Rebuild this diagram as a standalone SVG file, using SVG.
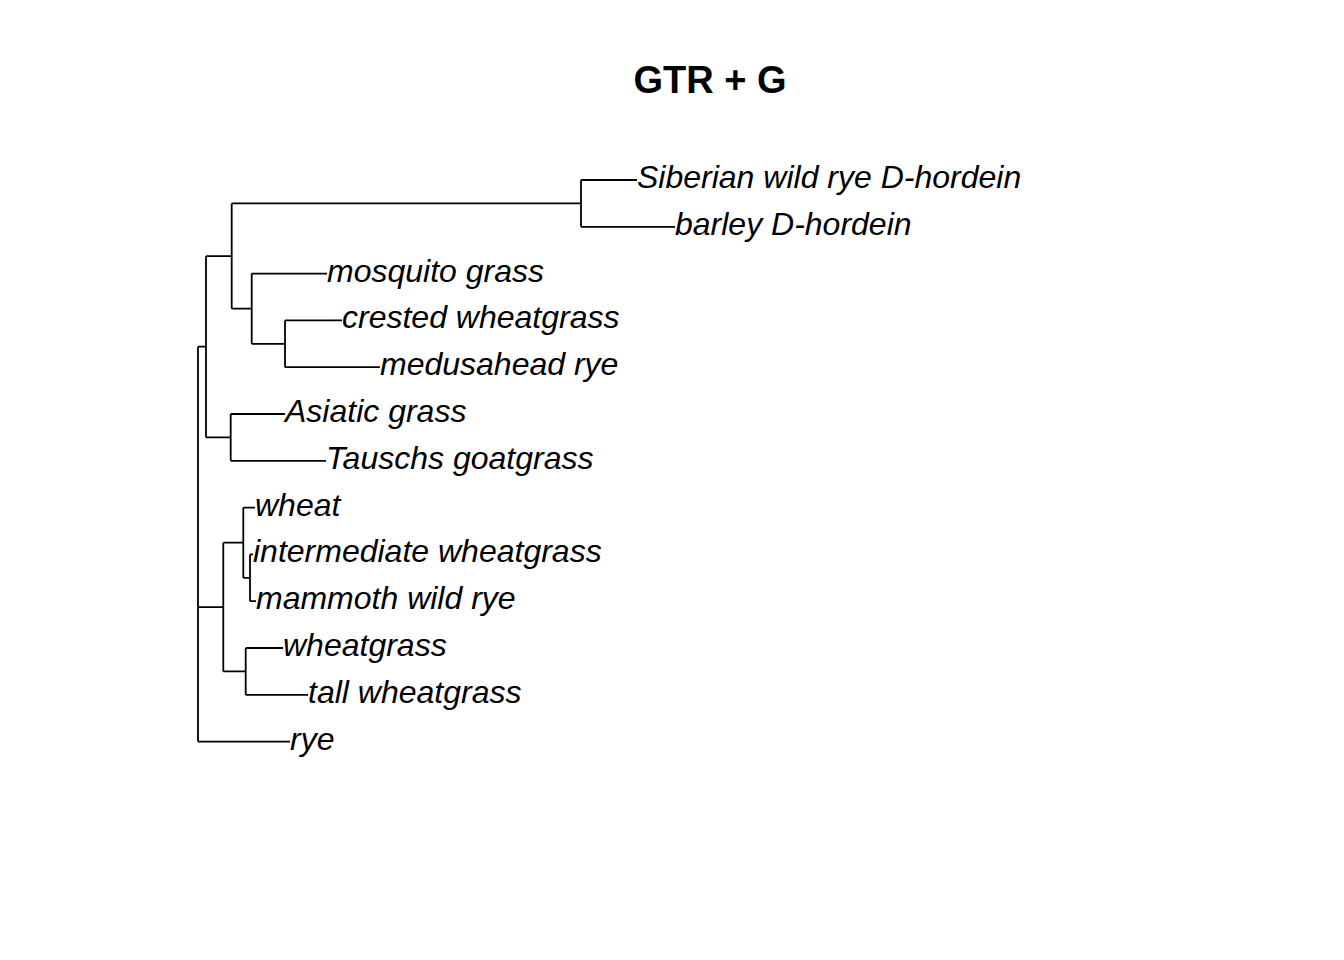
<svg xmlns="http://www.w3.org/2000/svg" width="1344" height="960" viewBox="0 0 1344 960">
<style>
.lbl{font-family:"Liberation Sans",Arial,sans-serif;font-style:italic;font-size:32px;fill:#000}
.ttl{font-family:"Liberation Sans",Arial,sans-serif;font-weight:bold;font-size:38px;fill:#000}
.br{fill:none;stroke:#000;stroke-width:1.8;stroke-linecap:butt;stroke-linejoin:miter}
</style>
<rect width="1344" height="960" fill="#fff"/>
<text class="ttl" x="710" y="93" text-anchor="middle">GTR + G</text>
<g id="connectors">
<path class="br" d="M198,346.7V741.6M198,346.7H206M198,607.05H223.3M198,741.6H290"/>
<path class="br" d="M206,256.05V437.4M206,256.05H231.7M206,437.4H230.7"/>
<path class="br" d="M231.7,203.4V308.7M231.7,203.4H581M231.7,308.7H251.7"/>
<path class="br" d="M581,180V226.8M581,180H637M581,226.8H675"/>
<path class="br" d="M251.7,273.6V343.8M251.7,273.6H327M251.7,343.8H285"/>
<path class="br" d="M285,320.4V367.2M285,320.4H342M285,367.2H380"/>
<path class="br" d="M230.7,414V460.8M230.7,414H285M230.7,460.8H326"/>
<path class="br" d="M223.3,542.7V671.4M223.3,542.7H243.3M223.3,671.4H245.7"/>
<path class="br" d="M243.3,507.6V577.8M243.3,507.6H255M243.3,577.8H250"/>
<path class="br" d="M250,554.4V601.2M250,554.4H253M250,601.2H256"/>
<path class="br" d="M245.7,648V694.8M245.7,648H283M245.7,694.8H308"/>
</g>
<g id="tip-siberian"><text class="lbl" x="637" y="188">Siberian wild rye D-hordein</text></g>
<g id="tip-barley"><text class="lbl" x="675" y="234.8">barley D-hordein</text></g>
<g id="tip-mosquito"><text class="lbl" x="327" y="281.6">mosquito grass</text></g>
<g id="tip-crested"><text class="lbl" x="342" y="328.4">crested wheatgrass</text></g>
<g id="tip-medusahead"><text class="lbl" x="380" y="375.2">medusahead rye</text></g>
<g id="tip-asiatic"><text class="lbl" x="285" y="422">Asiatic grass</text></g>
<g id="tip-tauschs"><text class="lbl" x="326" y="468.8">Tauschs goatgrass</text></g>
<g id="tip-wheat"><text class="lbl" x="255" y="515.6">wheat</text></g>
<g id="tip-intermediate"><text class="lbl" x="253" y="562.4">intermediate wheatgrass</text></g>
<g id="tip-mammoth"><text class="lbl" x="256" y="609.2">mammoth wild rye</text></g>
<g id="tip-wheatgrass"><text class="lbl" x="283" y="656">wheatgrass</text></g>
<g id="tip-tall"><text class="lbl" x="308" y="702.8">tall wheatgrass</text></g>
<g id="tip-rye"><text class="lbl" x="290" y="749.6">rye</text></g>
</svg>
